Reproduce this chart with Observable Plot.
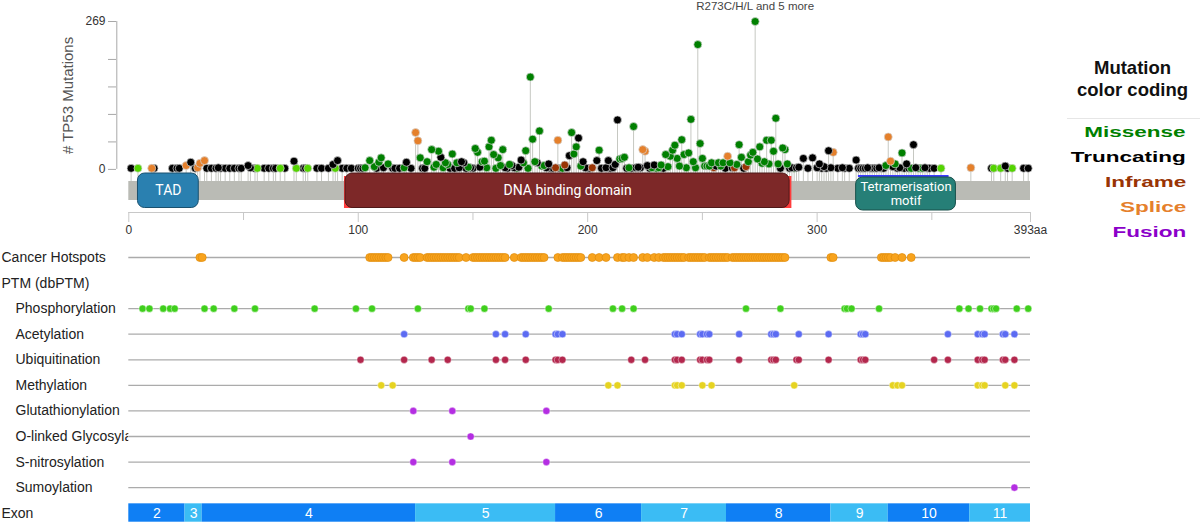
<!DOCTYPE html>
<html>
<head>
<meta charset="utf-8">
<script src="https://cdn.jsdelivr.net/npm/d3@7"></script>
<script src="https://cdn.jsdelivr.net/npm/@observablehq/plot@0.6"></script>
<style>
  html, body { margin: 0; padding: 0; background: #fff; }
  #chart { position: relative; width: 1200px; height: 523px; overflow: hidden; font-family: "Liberation Sans", Arial, sans-serif; }
  #chart > svg { position: absolute; left: 0; }
  .legend-title { position: absolute; left: 1062px; top: 57px; width: 141px; text-align: center; font: bold 18.5px/22px "Liberation Sans", Arial, sans-serif; color: #111; }
  .legend-rule { position: absolute; left: 1067px; top: 118px; width: 133px; height: 1px; background: #e6e6e6; }
  .legend-item { position: absolute; right: 14px; font: bold 15px/18px "Liberation Sans", Arial, sans-serif; white-space: nowrap; transform: scaleX(1.5); transform-origin: right center; }
</style>
</head>
<body>
<div id="chart"></div>
<script>
// ---- Protein ----
const proteinLength = 393;
const countMax = 269;

// ---- Mutations: [residue, number of samples] per mutation class ----
const truncating = [[1,2],[11,2],[19,2],[21,2],[22,2],[27,13],[29,2],[34,2],[36,2],[38,2],[39,3],[40,2],[42,2],[44,2],[46,2],[48,2],[49,2],[52,7],[53,3],[55,2],[59,2],[61,2],[63,2],[64,2],[68,2],[72,15],[76,2],[77,2],[82,2],[84,2],[87,2],[89,9],[91,16],[93,2],[95,2],[97,2],[100,2],[101,2],[102,2],[108,2],[111,3],[115,2],[116,2],[118,2],[121,13],[123,2],[128,2],[129,2],[136,22],[140,2],[142,2],[144,3],[145,14],[146,12],[147,2],[149,3],[150,2],[153,4],[164,3],[165,2],[167,7],[168,3],[170,4],[171,17],[178,12],[182,3],[183,10],[184,2],[185,2],[188,2],[191,3],[192,25],[196,57],[198,14],[199,3],[200,2],[201,2],[204,16],[206,2],[208,3],[209,16],[210,2],[211,3],[212,9],[213,90],[217,2],[219,2],[221,3],[222,4],[223,3],[226,7],[227,2],[229,8],[233,2],[256,6],[260,2],[263,3],[268,2],[284,2],[288,2],[289,3],[291,3],[292,4],[294,20],[296,2],[298,21],[300,3],[301,10],[302,2],[303,5],[304,2],[305,34],[306,3],[309,2],[311,3],[312,2],[314,2],[317,17],[318,2],[319,2],[320,2],[321,2],[322,3],[323,2],[324,2],[325,2],[326,2],[327,3],[328,2],[329,2],[333,5],[335,2],[336,3],[338,2],[339,10],[340,2],[342,45],[343,3],[345,2],[347,3],[348,2],[349,2],[351,2],[376,2],[382,6],[383,2],[390,2],[392,2]];
const missenseLight = [[4,2],[56,2],[66,2],[73,2],[78,2],[90,2],[354,2],[377,2],[380,2],[385,2]];
const missense = [[103,3],[105,16],[107,5],[109,13],[110,21],[113,10],[120,3],[127,21],[130,14],[132,36],[133,4],[134,9],[135,33],[137,3],[138,12],[139,9],[141,28],[143,12],[148,4],[151,38],[152,31],[154,14],[155,15],[156,3],[157,41],[158,53],[159,27],[160,2],[161,21],[162,7],[163,36],[166,9],[169,2],[172,12],[173,34],[174,2],[175,168],[176,55],[177,14],[179,70],[180,6],[181,7],[189,2],[193,67],[194,28],[195,41],[197,6],[205,35],[214,19],[215,20],[216,22],[218,3],[220,78],[228,3],[230,2],[231,3],[232,8],[234,27],[235,5],[236,24],[237,35],[238,44],[239,20],[240,6],[241,54],[242,27],[243,3],[244,30],[245,91],[246,14],[247,3],[248,227],[249,47],[250,20],[251,6],[252,6],[253,6],[254,12],[257,12],[258,6],[259,12],[262,12],[265,9],[266,45],[267,22],[270,14],[271,26],[272,31],[273,269],[274,19],[275,41],[276,11],[277,14],[278,53],[279,10],[280,53],[281,33],[282,93],[283,10],[285,39],[286,36],[287,10],[290,2],[330,7],[334,10],[337,30],[341,2],[344,2],[346,2]];
const inframe = [[186,3],[190,8],[202,3],[255,3],[264,3],[269,5]];
const splice = [[10,2],[25,7],[30,3],[31,11],[33,16],[125,67],[126,52],[187,53],[224,36],[225,33],[261,24],[307,31],[331,59],[332,15],[367,3]];

const mutationColors = {
  truncating: "#000000",
  missenseLight: "#53D400",
  missense: "#008000",
  inframe: "#993404",
  splice: "#e5802b"
};

const topHotspot = {pos: 273, count: 269, text: "R273C/H/L and 5 more"};

// ---- Protein domains ----
const domainNames = ["TAD", "DNA binding domain", "Tetramerisation motif"];
const domainLabels = ["TAD", "DNA binding domain", "Tetramerisation\nmotif"];
const domainStart = [4, 94.5, 317];
const domainEnd = [30.5, 288, 360.5];
const domainColors = ["#2a80b0", "#7d2828", "#267f77"];
const dbdRegion = [94, 289];
const tetramerRegion = [318, 357.5];

// ---- Axes ----
const countTicks = [0, 50, 100, 150, 200, 269];
const residueTicks = [0, 100, 200, 300, 393];
const residueMinorTicks = [50, 150, 250, 350];

// ---- Annotation tracks ----
const trackRows = ["Cancer Hotspots", "PTM (dbPTM)", "Phosphorylation", "Acetylation", "Ubiquitination", "Methylation", "Glutathionylation", "O-linked Glycosylation", "S-nitrosylation", "Sumoylation", "Exon"];
const headerRows = ["Cancer Hotspots", "PTM (dbPTM)", "Exon"];

const hotspots = [31,32,105,106,107,108,109,110,111,112,113,120,124,125,126,127,130,131,132,133,134,135,136,137,138,139,140,141,142,143,144,147,150,151,152,153,154,155,156,157,158,159,160,161,162,163,164,168,171,172,173,174,175,176,177,178,179,180,181,187,189,190,191,192,193,194,195,196,197,202,205,208,213,215,216,218,220,224,226,229,231,233,234,235,236,237,238,239,240,241,242,244,245,246,247,248,249,250,251,253,254,255,256,257,258,259,260,261,263,264,265,266,267,268,269,270,271,272,273,274,275,276,277,278,279,280,281,282,283,284,285,286,306,307,328,329,330,331,332,334,337,341];

const phosphorylation = [6,9,15,18,20,33,37,46,55,81,99,106,126,148,149,155,183,211,215,220,269,284,312,313,315,327,362,366,371,376,377,378,387,392];
const acetylation = [120,160,164,173,186,187,189,238,239,241,249,250,252,253,266,280,281,282,292,305,319,320,321,357,370,372,373,381,382,386];
const ubiquitination = [101,120,132,139,160,164,173,186,187,189,219,225,238,239,241,249,250,252,253,266,280,281,282,291,292,305,319,320,321,351,357,370,372,373,381,382,386];
const methylation = [110,115,209,213,238,239,241,250,254,290,333,335,337,370,372,373,382,386];
const glutathionylation = [124,141,182];
const oGlycosylation = [149];
const sNitrosylation = [124,141,182];
const sumoylation = [386];

const ptmNames = ["Phosphorylation", "Acetylation", "Ubiquitination", "Methylation", "Glutathionylation", "O-linked Glycosylation", "S-nitrosylation", "Sumoylation"];
const ptmSites = [phosphorylation, acetylation, ubiquitination, methylation, glutathionylation, oGlycosylation, sNitrosylation, sumoylation];
const ptmColors = ["#3fcf1c", "#5c6bf2", "#b3274d", "#e6d321", "#b42ee2", "#b42ee2", "#b42ee2", "#b42ee2"];

const exonLabels = ["2", "3", "4", "5", "6", "7", "8", "9", "10", "11"];
const exonStart = [0, 24.5, 32, 125, 186, 223.5, 260.5, 306, 331, 366.5];
const exonEnd = [24.5, 32, 125, 186, 223.5, 260.5, 306, 331, 366.5, 393];
const exonColors = ["#0f7ff4", "#3bbcf4", "#0f7ff4", "#3bbcf4", "#0f7ff4", "#3bbcf4", "#0f7ff4", "#3bbcf4", "#0f7ff4", "#3bbcf4"];

// ---- Legend ----
const legendLabels = ["Missense", "Truncating", "Inframe", "Splice", "Fusion"];
const legendColors = ["#008000", "#000000", "#993404", "#e5802b", "#8b00c9"];

// ---------------------------------------------------------------
const font = "'Liberation Sans', Arial, sans-serif";
const xRange = [128.3, 1030];
const stemFloor = -22; // stems start at the top edge of the protein bar

const lollipops = [
  ...truncating.map(([pos, count]) => ({pos, count, type: "truncating"})),
  ...missenseLight.map(([pos, count]) => ({pos, count, type: "missenseLight"})),
  ...missense.map(([pos, count]) => ({pos, count, type: "missense"})),
  ...inframe.map(([pos, count]) => ({pos, count, type: "inframe"})),
  ...splice.map(([pos, count]) => ({pos, count, type: "splice"}))
].sort((a, b) => a.count - b.count);

const domains = domainNames.map((name, i) => ({
  name, label: domainLabels[i], start: domainStart[i], end: domainEnd[i],
  mid: (domainStart[i] + domainEnd[i]) / 2, color: domainColors[i],
  edge: d3.color(domainColors[i]).darker(1.3).formatHex()
}));
const roundDomains = domains.filter((d) => d.name !== "Tetramerisation motif");
const tetDomain = domains.filter((d) => d.name === "Tetramerisation motif");

// Lollipop panel
const lollipopPlot = Plot.plot({
  width: 1200, height: 186,
  marginLeft: 116, marginRight: 170, marginTop: 21, marginBottom: 5,
  x: {domain: [0, proteinLength], range: xRange, axis: null},
  y: {domain: [stemFloor, countMax], range: [181, 21], axis: null},
  style: {fontFamily: font, fontSize: "12px", background: "transparent", overflow: "visible"},
  marks: [
    Plot.ruleX([0], {y1: 0, y2: countMax, dx: -12, stroke: "#a8a8a8"}),
    Plot.axisY({anchor: "left", ticks: countTicks, tickFormat: (d) => (d === 0 || d === countMax) ? String(d) : "",
      tickSize: 8, tickPadding: 3, stroke: "#a8a8a8", fill: "#333", fontSize: 12, label: null}),
    Plot.text(["# TP53 Mutations"], {frameAnchor: "left", y: countMax / 2, dx: -48, rotate: -90, textAnchor: "middle", fontSize: 15, fill: "#555"}),
    Plot.ruleX(lollipops, {x: "pos", y1: stemFloor, y2: "count", stroke: "#c6c8c2", strokeWidth: 1}),
    Plot.dot(lollipops, {x: "pos", y: "count", r: 4, fill: (d) => mutationColors[d.type], stroke: "#d6d6d6", strokeWidth: 0.7}),
    Plot.text([topHotspot], {x: "pos", y: "count", text: "text", dy: -15, fontSize: 11.5, fill: "#444"})
  ]
});

// Protein bar, domains and residue axis
const proteinPlot = Plot.plot({
  width: 1200, height: 75,
  marginLeft: 128, marginRight: 170, marginTop: 8, marginBottom: 28,
  x: {domain: [0, proteinLength], range: xRange, axis: null},
  y: {domain: [0, 1], axis: null},
  style: {fontFamily: font, fontSize: "12px", background: "transparent", overflow: "visible"},
  marks: [
    Plot.rect([proteinLength], {x1: 0, x2: (d) => d, insetTop: 8, insetBottom: 12, fill: "#babbb5"}),
    Plot.rect([dbdRegion], {x1: (d) => d[0], x2: (d) => d[1], insetTop: 3, insetBottom: 4, fill: "#ff3d3d"}),
    Plot.rect([tetramerRegion], {x1: (d) => d[0], x2: (d) => d[1], insetTop: 2, insetBottom: 35, fill: "#3b3bff"}),
    Plot.rect(roundDomains, {x1: "start", x2: "end", insetBottom: 4.5, rx: 7, fill: "color", stroke: "edge", strokeWidth: 1}),
    Plot.rect(tetDomain, {x1: "start", x2: "end", insetTop: 4, insetBottom: 2, rx: 7, fill: "color", stroke: "edge", strokeWidth: 1}),
    Plot.text(roundDomains, {x: "mid", text: "label", frameAnchor: "middle", dy: -2, fill: "white", fontFamily: "Roboto, sans-serif", fontSize: 14}),
    Plot.text(tetDomain, {x: "mid", text: "label", frameAnchor: "middle", dy: 0.5, lineHeight: 1.08, fill: "white", fontFamily: "Roboto, sans-serif", fontSize: 13}),
    Plot.ruleY([0], {x1: 0, x2: proteinLength, stroke: "#c8c8c8"}),
    Plot.axisX({anchor: "bottom", ticks: residueMinorTicks, tickSize: 8, tickFormat: () => "", stroke: "#c8c8c8", label: null}),
    Plot.axisX({anchor: "bottom", ticks: residueTicks, tickSize: 10, tickPadding: 3,
      tickFormat: (d) => d === proteinLength ? `${d}aa` : String(d), stroke: "#c8c8c8", fill: "#333", fontSize: 12, label: null})
  ]
});

// Annotation tracks
const ptmDots = ptmNames.flatMap((row, i) => ptmSites[i].map((pos) => ({row, pos, color: ptmColors[i]})));
const exons = exonLabels.map((label, i) => ({label, start: exonStart[i], end: exonEnd[i], mid: (exonStart[i] + exonEnd[i]) / 2, color: exonColors[i], row: "Exon"}));
const lineRows = trackRows.filter((r) => r !== "PTM (dbPTM)" && r !== "Exon");
const subRows = trackRows.filter((r) => !headerRows.includes(r));

const trackPlot = Plot.plot({
  width: 1200, height: 283,
  marginLeft: 128, marginRight: 170, marginTop: 0, marginBottom: 0,
  x: {domain: [0, proteinLength], range: xRange, axis: null},
  y: {type: "band", domain: trackRows, range: [4.2, 285.5], padding: 0, round: false, axis: null},
  style: {fontFamily: font, fontSize: "14px", background: "transparent", overflow: "visible"},
  marks: [
    Plot.text(headerRows, {y: (d) => d, text: (d) => d, frameAnchor: "left", textAnchor: "start", dx: -127, fontSize: 14, fill: "#222"}),
    Plot.text(subRows, {y: (d) => d, text: (d) => d, frameAnchor: "left", textAnchor: "start", dx: -113, fontSize: 14, fill: "#222"}),
    Plot.barX(lineRows, {x1: 0, x2: proteinLength, y: (d) => d, fill: "white"}),
    Plot.ruleY(lineRows, {y: (d) => d, x1: 0, x2: proteinLength, stroke: "#ababab", strokeWidth: 1.3}),
    Plot.dot(hotspots, {x: (d) => d, y: () => "Cancer Hotspots", r: 4, fill: "#f8a31d", stroke: "#e08c0c", strokeWidth: 0.7}),
    Plot.dot(ptmDots, {x: "pos", y: "row", r: 3.6, fill: "color", stroke: "white", strokeWidth: 0.6, strokeOpacity: 0.7}),
    Plot.barX(exons, {x1: "start", x2: "end", y: "row", fill: "color", insetTop: 3.4, insetBottom: 3.8}),
    Plot.text(exons, {x: "mid", y: "row", text: "label", fill: "white", fontSize: 14})
  ]
});

const chart = document.getElementById("chart");
lollipopPlot.style.top = "0px";
proteinPlot.style.top = "165px";
trackPlot.style.top = "240px";
chart.append(lollipopPlot, proteinPlot, trackPlot);

// Mutation colour key
const title = document.createElement("div");
title.className = "legend-title";
title.innerHTML = "Mutation<br>color coding";
chart.append(title);
const rule = document.createElement("div");
rule.className = "legend-rule";
chart.append(rule);
legendLabels.forEach((label, i) => {
  const item = document.createElement("div");
  item.className = "legend-item";
  item.textContent = label;
  item.style.color = legendColors[i];
  item.style.top = `${131.7 + 25 * i - 9}px`;
  chart.append(item);
});
</script>
</body>
</html>
